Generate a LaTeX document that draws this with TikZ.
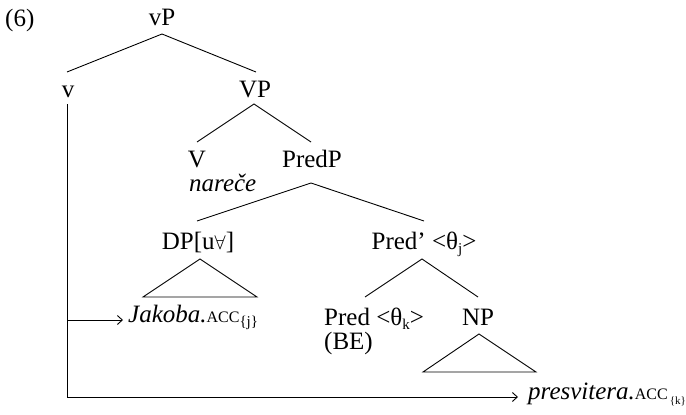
\documentclass[tikz,border=0pt]{standalone}
\usepackage{fontspec}
\setmainfont{Liberation Serif}
\usetikzlibrary{arrows.meta}
\newcommand{\accsc}{{\fontsize{16}{16}\selectfont ACC}}
\newcommand{\sbx}[1]{\raisebox{-0.4ex}{\fontsize{15}{15}\selectfont #1}}
\newcommand{\sbxs}[1]{\raisebox{-0.5ex}{\fontsize{11}{11}\selectfont #1}}
\newcommand{\smallforall}{\raisebox{0pt}{\scalebox{0.8}{$\forall$}}}
\begin{document}
\begin{tikzpicture}[x=1pt,y=-1pt,
  every node/.style={font=\fontsize{25}{30}\selectfont, inner sep=0pt},
  edge/.style={line width=0.9pt},
  arr/.style={line width=0.9pt, -{Straight Barb[length=5pt,width=9pt,line width=0.9pt]}}]
\path[use as bounding box] (0,0) rectangle (686,415);

% labels
\node[anchor=base west] (ex) at (5,27) {(6)};
\node[anchor=base] (vP) at (162,25) {vP};
\node[anchor=base] (v) at (68,97) {v};
\node[anchor=base] (VP) at (255,97) {VP};
\node[anchor=base] (V) at (197,167) {V};
\node[anchor=base west] (nar) at (189,191) {\itshape nareče};
\node[anchor=base] (PredP) at (312,167) {PredP};
\node[anchor=base] (DP) at (198,249) {DP[u\smallforall]};
\node[anchor=base] (Predbar) at (424,249) {Pred’ <θ\sbx{j}>};
\node[anchor=base west] (Pred) at (324,325) {Pred <θ\sbx{k}>};
\node[anchor=base west] (BE) at (324,349) {(BE)};
\node[anchor=base] (NP) at (478,325) {NP};
\node[anchor=base west] (jak) at (128,322) {\itshape Jakoba.\upshape\accsc\sbx{\{j\}}};
\node[anchor=base west] (pres) at (528,399) {\itshape presvitera.\upshape\accsc\kern2pt\sbxs{\{k\}}};

% joints
\coordinate (vP-b) at (162,34);
\coordinate (v-t) at (67,72);
\coordinate (VP-t) at (256,72);
\coordinate (VP-b) at (254,104);
\coordinate (V-t) at (197,142);
\coordinate (PredP-t) at (311,142);
\coordinate (PredP-b) at (311,183);
\coordinate (DP-t) at (197,221);
\coordinate (Predbar-t) at (424,221);
\coordinate (DP-b) at (200,259);
\coordinate (DP-l) at (143,297);
\coordinate (DP-r) at (257,297);
\coordinate (Predbar-b) at (422,259);
\coordinate (Pred-t) at (365,297);
\coordinate (NP-t) at (478,297);
\coordinate (NP-b) at (479,334);
\coordinate (NP-l) at (423,372);
\coordinate (NP-r) at (536,372);
\coordinate (v-b) at (67,104);
\coordinate (branch) at (67,320);
\coordinate (corner) at (67,397);

% tree edges
\draw[edge] (v-t) -- (vP-b) -- (VP-t);
\draw[edge] (V-t) -- (VP-b) -- (PredP-t);
\draw[edge] (DP-t) -- (PredP-b) -- (Predbar-t);
\draw[edge] (Pred-t) -- (Predbar-b) -- (NP-t);
\draw[edge] (DP-b) -- (DP-l) -- (DP-r) -- cycle;
\draw[edge] (NP-b) -- (NP-l) -- (NP-r) -- cycle;

% movement arrows
\draw[edge] (v-b) -- (corner);
\draw[arr, shorten >=5pt] (branch) -- (jak.west |- branch);
\draw[arr, shorten >=10pt] (corner) -- (pres.west |- corner);
\end{tikzpicture}
\end{document}
